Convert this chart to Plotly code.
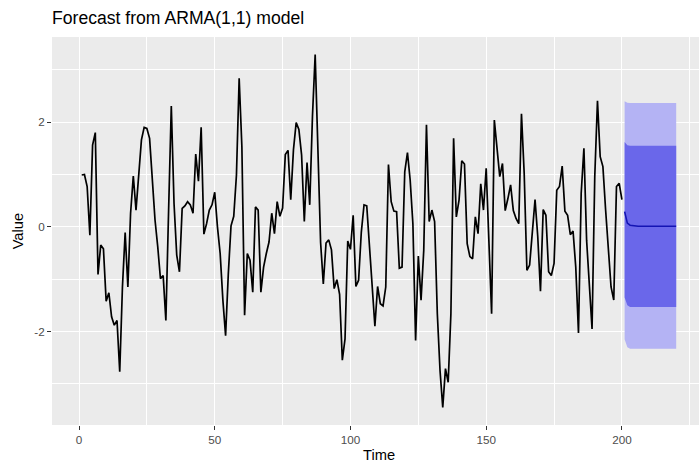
import plotly.graph_objects as go

# Couleurs utilisées (thème ggplot2)
colors = {
    'panel': '#EBEBEB',
    'grid': 'white',
    'ticks': '#333333',
    'ticktext': '#4D4D4D',
    'band95': '#B4B3F4',
    'band80': '#6A67EA',
    'mean': '#1414B4',
}

## Données

# série observée (t = 1..200)
time = list(range(1, 201))
values = [
    0.99, 1.00, 0.77, -0.16, 1.56, 1.80, -0.91, -0.35, -0.42, -1.42,
    -1.26, -1.72, -1.88, -1.79, -2.77, -1.15, -0.11, -1.15, 0.26, 0.97,
    0.32, 1.02, 1.66, 1.90, 1.88, 1.69, 0.89, 0.13, -0.38, -0.99,
    -0.93, -1.79, 0.30, 2.31, 0.45, -0.54, -0.86, 0.35, 0.40, 0.48,
    0.42, 0.26, 1.39, 0.87, 1.90, -0.14, 0.06, 0.32, 0.42, 0.66,
    0.00, -0.51, -1.40, -2.08, -0.90, 0.02, 0.20, 0.99, 2.84, 1.53,
    -1.69, -0.51, -0.64, -1.25, 0.38, 0.32, -1.25, -0.77, -0.51, -0.29,
    0.26, -0.13, 0.48, 0.20, 0.36, 1.38, 1.46, 0.52, 1.47, 1.99,
    1.86, 1.37, 0.10, 1.23, 0.42, 2.11, 3.29, 1.30, -0.30, -1.09,
    -0.31, -0.25, -0.44, -1.18, -1.01, -1.29, -2.55, -2.14, -0.27, -0.43,
    0.22, -1.14, -1.02, -0.10, 0.42, 0.40, -0.38, -1.28, -1.90, -1.14,
    -1.47, -1.51, -1.15, 1.19, 0.48, 0.30, 0.29, -0.79, -0.77, 1.05,
    1.42, 0.89, 0.06, -2.17, -0.56, -1.40, -0.45, 1.95, 0.10, 0.32,
    0.10, -1.66, -2.75, -3.45, -2.71, -2.97, -1.66, 1.69, 0.19, 0.51,
    1.26, 1.20, -0.32, -0.57, -0.61, 0.19, -0.13, 0.82, 0.32, 1.12,
    -0.26, -1.66, 2.04, 1.47, 0.96, 1.21, 0.31, 0.54, 0.80, 0.31,
    0.16, 0.06, 2.16, 1.02, -0.83, -0.73, -0.06, 0.52, -0.19, -1.23,
    0.33, 0.22, -0.86, -0.93, -0.70, 0.70, 0.77, 1.16, 0.30, 0.22,
    -0.15, -0.08, -0.77, -2.03, 0.64, 1.50, -0.26, -1.05, -1.95, 0.96,
    2.41, 1.34, 1.15, 0.32, -0.45, -1.15, -1.40, 0.77, 0.83, 0.52,
]

# prévision (t = 201..220)
fc_time = list(range(201, 221))
fc_mean = [0.29, 0.07, 0.03, 0.02, 0.01, 0.01, 0.01, 0.01, 0.01, 0.01,
           0.01, 0.01, 0.01, 0.01, 0.01, 0.01, 0.01, 0.01, 0.01, 0.01]
fc_hi80 = [1.62, 1.56, 1.55, 1.55, 1.55, 1.55, 1.55, 1.55, 1.55, 1.55,
           1.55, 1.55, 1.55, 1.55, 1.55, 1.55, 1.55, 1.55, 1.55, 1.55]
fc_lo80 = [-1.35, -1.50, -1.53, -1.53, -1.53, -1.53, -1.53, -1.53, -1.53, -1.53,
           -1.53, -1.53, -1.53, -1.53, -1.53, -1.53, -1.53, -1.53, -1.53, -1.53]
fc_hi95 = [2.40, 2.37, 2.365, 2.365, 2.365, 2.365, 2.365, 2.365, 2.365, 2.365,
           2.365, 2.365, 2.365, 2.365, 2.365, 2.365, 2.365, 2.365, 2.365, 2.365]
fc_lo95 = [-2.15, -2.30, -2.33, -2.33, -2.33, -2.33, -2.33, -2.33, -2.33, -2.33,
           -2.33, -2.33, -2.33, -2.33, -2.33, -2.33, -2.33, -2.33, -2.33, -2.33]

x_ticks = [0, 50, 100, 150, 200]
x_minor = [25, 75, 125, 175, 225]
y_ticks = [-2, 0, 2]
y_ticklabels = ['-2', '0', '2']
y_minor = [-3, -1, 1, 3]


## Figure

def create_forecast(title="Forecast from ARMA(1,1) model"):
    """
    Retourne le graphique de prévision.

    Returns:
        Return type : plotly.graph_objects.Figure
    """
    fig = go.Figure()

    # bande 95 %
    fig.add_trace(go.Scatter(x=fc_time, y=fc_hi95, mode='lines', line={'width': 0},
                             showlegend=False, hoverinfo='skip'))
    fig.add_trace(go.Scatter(x=fc_time, y=fc_lo95, mode='lines', line={'width': 0},
                             fill='tonexty', fillcolor=colors['band95'],
                             showlegend=False, hoverinfo='skip'))
    # bande 80 %
    fig.add_trace(go.Scatter(x=fc_time, y=fc_hi80, mode='lines', line={'width': 0},
                             showlegend=False, hoverinfo='skip'))
    fig.add_trace(go.Scatter(x=fc_time, y=fc_lo80, mode='lines', line={'width': 0},
                             fill='tonexty', fillcolor=colors['band80'],
                             showlegend=False, hoverinfo='skip'))
    # moyenne prévue
    fig.add_trace(go.Scatter(x=fc_time, y=fc_mean, mode='lines',
                             line={'color': colors['mean'], 'width': 1.6}, showlegend=False))
    # série
    fig.add_trace(go.Scatter(x=time, y=values, mode='lines',
                             line={'color': 'black', 'width': 1.7}, showlegend=False))

    # échelle y : expansion de 5 % comme ggplot
    y_min = min(values + fc_lo95)
    y_max = max(values + fc_hi95)
    pad = 0.05 * (y_max - y_min)

    font = 'Liberation Sans, Arial, Helvetica, sans-serif'
    fig.update_layout(
        width=699, height=463,
        margin={'l': 52, 'r': 0, 't': 37, 'b': 38},
        paper_bgcolor='white', plot_bgcolor=colors['panel'],
        font={'family': font},
        title={'text': title, 'font': {'size': 17.6, 'color': 'black'},
               'xref': 'paper', 'x': 0, 'xanchor': 'left',
               'yref': 'container', 'y': 1 - 18 / 463, 'yanchor': 'middle'},
        xaxis={'range': [-9.95, 228.4], 'tickvals': x_ticks,
               'showgrid': True, 'gridcolor': colors['grid'], 'gridwidth': 1.4,
               'minor': {'tickvals': x_minor, 'showgrid': True,
                         'gridcolor': colors['grid'], 'gridwidth': 0.7},
               'ticks': 'outside', 'ticklen': 4, 'tickwidth': 1.1, 'tickcolor': colors['ticks'],
               'tickfont': {'size': 11.7, 'color': colors['ticktext']},
               'zeroline': False, 'showline': False, 'automargin': False},
        yaxis={'range': [y_min - pad, y_max + pad], 'tickvals': y_ticks, 'ticktext': y_ticklabels,
               'showgrid': True, 'gridcolor': colors['grid'], 'gridwidth': 1.4,
               'minor': {'tickvals': y_minor, 'showgrid': True,
                         'gridcolor': colors['grid'], 'gridwidth': 0.7},
               'ticks': 'outside', 'ticklen': 4, 'tickwidth': 1.1, 'tickcolor': colors['ticks'],
               'tickfont': {'size': 11.7, 'color': colors['ticktext']},
               'zeroline': False, 'showline': False, 'automargin': False},
        annotations=[
            {'text': 'Time', 'xref': 'paper', 'yref': 'paper', 'x': 0.505, 'y': -0.078,
             'xanchor': 'center', 'yanchor': 'middle', 'showarrow': False,
             'font': {'size': 14.7, 'color': 'black'}},
            {'text': 'Value', 'xref': 'paper', 'yref': 'paper', 'x': -0.052, 'y': 0.5,
             'xanchor': 'center', 'yanchor': 'middle', 'showarrow': False, 'textangle': -90,
             'font': {'size': 14.7, 'color': 'black'}},
        ],
    )
    return fig


# création du graphique
fig = create_forecast()
fig.write_html("out.html", config={'displayModeBar': False})

# pas de marge autour du graphique dans la page
with open("out.html", encoding="utf-8") as f:
    page = f.read()
page = page.replace("<head>", "<head><style>body{margin:0;}</style>", 1)
with open("out.html", "w", encoding="utf-8") as f:
    f.write(page)
